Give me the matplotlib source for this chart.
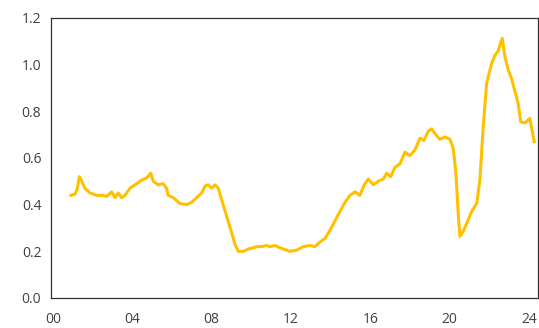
import matplotlib
matplotlib.use('Agg')
import matplotlib.pyplot as plt

# years since 2000
years = [0.91, 1.11, 1.23, 1.33, 1.45, 1.61, 1.87, 2.20, 2.52, 2.71, 2.96, 3.13, 3.29, 3.46,
         3.63, 3.88, 4.22, 4.47, 4.73, 4.93, 5.06, 5.31, 5.56, 5.73, 5.81, 6.07, 6.40, 6.74,
         6.99, 7.25, 7.50, 7.67, 7.83, 8.00, 8.17, 8.34, 8.51, 8.76, 9.01, 9.18, 9.34, 9.60,
         9.85, 10.10, 10.27, 10.52, 10.78, 10.94, 11.20, 11.45, 11.95, 12.29, 12.62, 12.96,
         13.21, 13.46, 13.72, 13.97, 14.22, 14.47, 14.73, 14.98, 15.23, 15.48, 15.70, 15.90,
         16.15, 16.40, 16.66, 16.83, 17.03, 17.25, 17.50, 17.75, 18.00, 18.26, 18.51, 18.71,
         18.93, 19.10, 19.26, 19.51, 19.77, 20.02, 20.19, 20.32, 20.44, 20.52, 20.69, 20.94,
         21.11, 21.37, 21.53, 21.70, 21.87, 22.12, 22.29, 22.46, 22.54, 22.66, 22.79, 22.96,
         23.13, 23.30, 23.46, 23.59, 23.80, 24.05, 24.27]
values = [0.44, 0.445, 0.47, 0.52, 0.50, 0.47, 0.45, 0.44, 0.44, 0.435, 0.455, 0.43, 0.45, 0.43,
          0.44, 0.47, 0.49, 0.505, 0.515, 0.535, 0.50, 0.485, 0.49, 0.47, 0.44, 0.43, 0.405, 0.40,
          0.41, 0.43, 0.45, 0.48, 0.485, 0.47, 0.485, 0.47, 0.42, 0.35, 0.28, 0.23, 0.20, 0.20,
          0.21, 0.215, 0.22, 0.22, 0.225, 0.22, 0.225, 0.215, 0.20, 0.205, 0.22, 0.225,
          0.22, 0.24, 0.255, 0.29, 0.33, 0.37, 0.41, 0.44, 0.455, 0.44, 0.485, 0.51,
          0.485, 0.50, 0.51, 0.535, 0.52, 0.56, 0.575, 0.625, 0.61, 0.635, 0.685, 0.675,
          0.715, 0.725, 0.705, 0.68, 0.69, 0.68, 0.64, 0.535, 0.36, 0.265, 0.285, 0.335,
          0.37, 0.405, 0.505, 0.735, 0.92, 1.005, 1.04, 1.06, 1.085, 1.113, 1.035, 0.977,
          0.94, 0.885, 0.835, 0.755, 0.75, 0.77, 0.67]

xticks = [0, 4, 8, 12, 16, 20, 24]
xlabels = ['00', '04', '08', '12', '16', '20', '24']
yticks = [0.0, 0.2, 0.4, 0.6, 0.8, 1.0, 1.2]

plt.rcParams['font.family'] = ['Open Sans', 'DejaVu Sans']

fig = plt.figure(figsize=(5.39, 3.28), dpi=100)
ax = fig.add_axes([0.0946, 0.0915, 0.9035, 0.8537])
ax.plot(years, values, color='#FFC000', linewidth=2.2)

ax.set_xlim(-0.1, 24.46)
ax.set_ylim(0, 1.2)
ax.set_xticks(xticks)
ax.set_xticklabels(xlabels)
ax.set_yticks(yticks)
ax.set_yticklabels(['%.1f' % v for v in yticks])
ax.tick_params(axis='both', length=0, labelsize=10, labelcolor='#404040')
ax.tick_params(axis='x', pad=10)
ax.tick_params(axis='y', pad=7)
for s in ax.spines.values():
    s.set_color('#333333')
    s.set_linewidth(0.9)

fig.savefig('out.png', dpi=100)
